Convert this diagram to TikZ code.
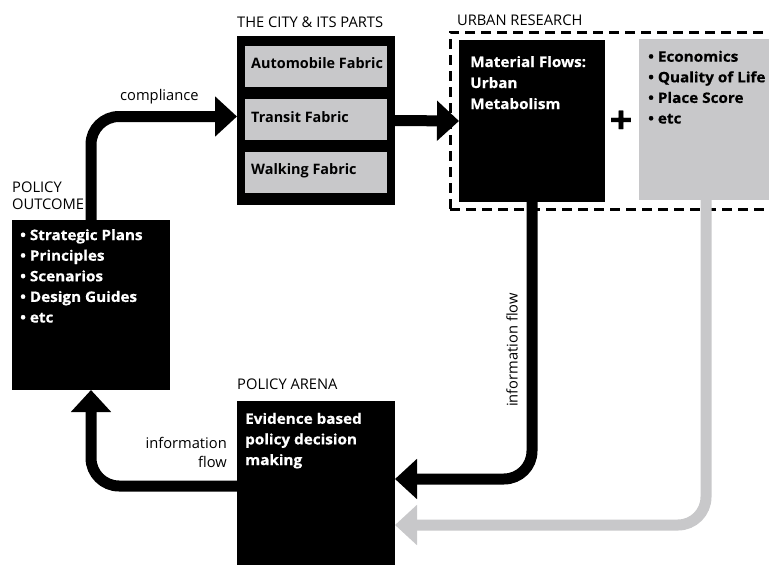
\documentclass[tikz,border=0pt]{standalone}
\usepackage{fontspec}
\setmainfont{Open Sans}
\newfontfamily\heavyfont{Open Sans}[BoldFeatures={FakeBold=0.6,FakeStretch=1.06}]
\usetikzlibrary{arrows.meta,calc}
\definecolor{panelgray}{RGB}{200,200,202}

\begin{document}
\begin{tikzpicture}[x=1pt,y=-1pt,
  blk/.style={fill=black,draw=none,inner sep=0,outer sep=0,anchor=north west},
  gry/.style={fill=panelgray,draw=none,inner sep=0,outer sep=0,anchor=north west},
  heading/.style={anchor=base west,inner sep=0,align=left,font=\fontsize{14.7}{17}\selectfont},
  boxtext/.style={anchor=base west,inner sep=0,align=left,font=\fontsize{14.4}{20.6}\selectfont\bfseries},
  heavytext/.style={anchor=base west,inner sep=0,align=left,font=\fontsize{14.4}{20.6}\heavyfont\bfseries},
  flow/.style={line width=11pt,rounded corners=28pt,-{Triangle[width=39pt,length=22pt]}},
]
\path[clip] (0,0) rectangle (769,565);
\fill[white] (0,0) rectangle (769,565);

% urban research frame
\node[draw=black,dashed,dash pattern=on 10pt off 6pt,line width=3pt,inner sep=0,outer sep=0,
      anchor=north west,minimum width=340pt,minimum height=177pt] (research) at (450,32) {};

% boxes
\node[blk,minimum width=158pt,minimum height=169pt] (city) at (237,36) {};
\node[gry,minimum width=142pt,minimum height=41pt] (auto) at (245,46) {};
\node[gry,minimum width=142pt,minimum height=41pt] (transit) at (245,99) {};
\node[gry,minimum width=142pt,minimum height=41pt] (walk) at (245,152) {};
\node[blk,minimum width=158pt,minimum height=170pt] (po) at (12,220) {};
\node[blk,minimum width=158pt,minimum height=170pt] (arena) at (237,401) {};
\node[blk,minimum width=146pt,minimum height=162pt] (mf) at (459,40) {};
\node[gry,minimum width=134pt,minimum height=161pt] (gb) at (639,39) {};

% headings (multi-line nodes are placed by their last baseline)
\node[heading] (hcity) at (237,27) {THE CITY \& ITS PARTS};
\node[heading] (hresearch) at (457,25) {URBAN RESEARCH};
\node[heading] (hpo) at (12,209) {POLICY\\OUTCOME};
\node[heading] (harena) at (237,389) {POLICY ARENA};

% box contents
\node[boxtext] (tauto) at (251,68) {Automobile Fabric};
\node[boxtext] (ttransit) at (251,122) {Transit Fabric};
\node[boxtext] (twalk) at (251,174) {Walking Fabric};
\node[heavytext,text=white] (tpo) at (20,322.5) {• Strategic Plans\\• Principles\\• Scenarios\\• Design Guides\\• etc};
\node[heavytext,text=white,font=\fontsize{14.4}{21}\heavyfont\bfseries] (tmf) at (470,109) {Material Flows:\\Urban\\Metabolism};
\node[heavytext] (tgb) at (648,123.5) {• Economics\\• Quality of Life\\• Place Score\\• etc};
\node[heavytext,text=white] (tarena) at (245,465) {Evidence based\\policy decision\\making};
\node[inner sep=0,font=\fontsize{38}{38}\heavyfont\bfseries] (plus) at (621,122) {+};

% connectors
\draw[flow] (po.north) |- ($(city.west)+(0,-4)$);
\draw[flow] (city.east) -- (mf.west);
\draw[flow,panelgray] (gb.south) |- ($(arena.north east)+(0,124)$);
\draw[flow] (mf.south) |- ($(arena.north east)+(0,78)$);
\draw[flow] ($(arena.north west)+(0,85)$) -| (po.south);

% connector labels
\node[heading] (lcomp) at (120,100) {compliance};
\node[heading,anchor=base east,align=right,font=\fontsize{14.7}{19}\selectfont] (linfo) at (227,467) {information\\flow};
\node[inner sep=0,rotate=90,font=\fontsize{14.7}{17}\selectfont] (lflow) at (512,350) {information flow};
\end{tikzpicture}
\end{document}
